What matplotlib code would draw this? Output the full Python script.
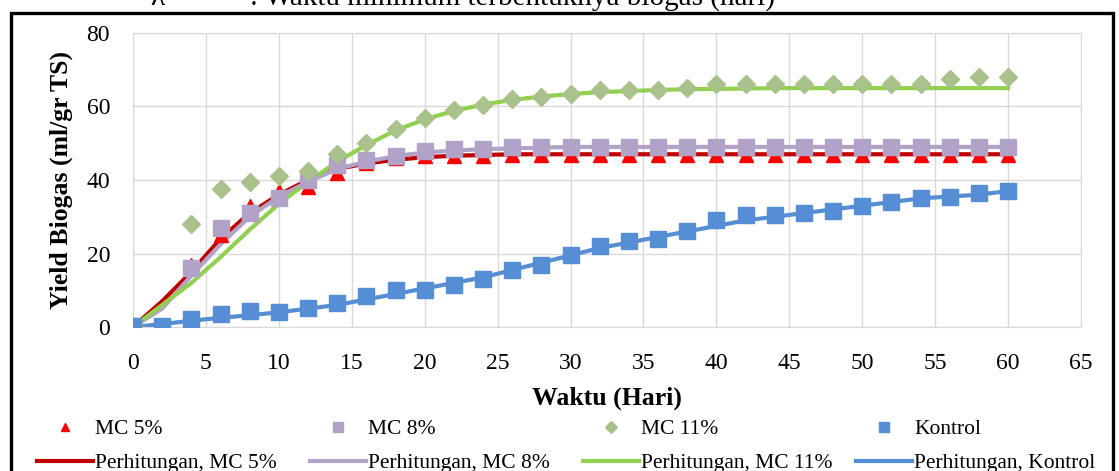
import matplotlib.pyplot as plt
from matplotlib.patches import Rectangle

# observed data (every 2 days)
hari = [0, 2, 4, 6, 8, 10, 12, 14, 16, 18, 20, 22, 24, 26, 28, 30,
        32, 34, 36, 38, 40, 42, 44, 46, 48, 50, 52, 54, 56, 58, 60]
hari_obs = [0, 4, 6, 8, 10, 12, 14, 16, 18, 20, 22, 24, 26, 28, 30,
            32, 34, 36, 38, 40, 42, 44, 46, 48, 50, 52, 54, 56, 58, 60]

mc5 = [0, 17, 25, 33, 37, 38, 42, 44.5, 46, 46.5, 46.5, 46.5, 46.7, 46.8, 46.8,
       46.8, 46.8, 46.8, 46.8, 46.8, 46.8, 46.8, 46.8, 46.8, 46.8, 46.8, 46.8, 46.8, 46.8, 46.8]
mc8 = [0.3, 16, 27, 31, 35, 40, 44, 45.5, 46.5, 48, 48.5, 48.5, 49, 49, 49,
       49, 49, 49, 49, 49, 49, 49, 49, 49, 49, 49, 49, 49, 49, 49]
mc11 = [0.3, 28, 37.5, 39.5, 41, 42.5, 47, 50, 54, 57, 59, 60.5, 62, 62.5, 63.5,
        64.5, 64.5, 64.5, 65, 66, 66, 66, 66, 66, 66, 66, 66, 67.5, 68, 68]
kontrol = [0.3, 0.3, 2.2, 3.5, 4.3, 4.2, 5.3, 6.5, 8.5, 10, 10, 11.5, 13, 15.5, 17, 19.5,
           22, 23.5, 24, 26, 29, 30.5, 30.5, 31, 31.5, 33, 34, 35, 35.5, 36.5, 37]

# calculated (Gompertz) curves
p_mc5 = [0, 7, 15, 24, 31, 36, 40, 43, 44.5, 45.5, 46.2, 46.6, 46.8, 47, 47, 47,
         47, 47, 47, 47, 47, 47, 47, 47, 47, 47, 47, 47, 47, 47, 47]
p_mc8 = [0, 5, 14, 22.5, 30, 35.5, 39.5, 43, 45, 46.5, 47.5, 48, 48.4, 48.6, 48.8, 49,
         49, 49, 49, 49, 49, 49, 49, 49, 49, 49, 49, 49, 49, 49, 49]
p_mc11 = [0, 6, 12, 19, 26.5, 33.5, 39.5, 45, 49.5, 53.5, 56.5, 58.8, 60.5, 61.8, 62.7, 63.4,
          63.9, 64.2, 64.5, 64.7, 64.8, 64.9, 65, 65, 65, 65, 65, 65, 65, 65, 65]
p_kontrol = [0, 0.8, 1.7, 2.5, 3.2, 4, 5, 6, 7.5, 9, 10.5, 12, 13.5, 15.5, 17.5, 19.5,
             21.5, 23, 24.5, 26, 27.5, 29, 30, 31, 32, 33, 34, 35, 35.5, 36, 37]

plt.rcParams['font.family'] = 'Liberation Serif'

fig = plt.figure(figsize=(11.19, 4.71), dpi=100)
ax = fig.add_axes([133 / 1119, 1 - 327 / 471, (1081 - 133) / 1119, (327 - 33) / 471])

l1, = ax.plot(hari, p_mc5, color='#C00000', lw=3, zorder=2)
l2, = ax.plot(hari, p_mc8, color='#B3A2C7', lw=3, zorder=2)
l3, = ax.plot(hari, p_mc11, color='#92D050', lw=3, zorder=2)
l4, = ax.plot(hari, p_kontrol, color='#558ED5', lw=3, zorder=2)

m1, = ax.plot(hari_obs, mc5, ls='none', marker='^', ms=9.5, color='#FF0000', zorder=3)
m2, = ax.plot(hari_obs, mc8, ls='none', marker='s', ms=11, color='#B3A2C7', zorder=3)
m3, = ax.plot(hari_obs, mc11, ls='none', marker='D', ms=9, color='#A9C18B', zorder=3)
m4, = ax.plot(hari, kontrol, ls='none', marker='s', ms=11, color='#558ED5', zorder=3)

ax.set_xlim(0, 65)
ax.set_ylim(0, 80)
ax.set_xticks(range(0, 66, 5))
ax.set_yticks(range(0, 81, 20))
ax.grid(color='#D9D9D9', lw=1)
ax.set_axisbelow(True)
for s in ax.spines.values():
    s.set_color('#D9D9D9')
ax.tick_params(length=0, labelsize=17)
ax.tick_params(axis='x', pad=19)
ax.tick_params(axis='y', pad=16.5)
ax.set_xlabel('Waktu (Hari)', fontsize=18.5, fontweight='bold', labelpad=9)
ax.set_ylabel('Yield Biogas (ml/gr TS)', fontsize=18.5, fontweight='bold', labelpad=10)

# legend: four columns, two rows
handles = [(m1, l1, 'MC 5%', 'Perhitungan, MC 5%'),
           (m2, l2, 'MC 8%', 'Perhitungan, MC 8%'),
           (m3, l3, 'MC 11%', 'Perhitungan, MC 11%'),
           (m4, l4, 'Kontrol', 'Perhitungan, Kontrol')]
for i, (m, l, t1, t2) in enumerate(handles):
    x0 = (37 + 273 * i) / 1119
    fig.legend([m, l], [t1, t2], loc='upper left', bbox_to_anchor=(x0, 1 - 419 / 471),
               frameon=False, fontsize=15.5, handlelength=2.6, handletextpad=0.1,
               borderpad=0, borderaxespad=0, labelspacing=0.65, markerscale=0.65)

# partial caption line above the chart
fig.text(150 / 1119, 1 - 5 / 471, 'λ', fontsize=21, va='baseline')
fig.text(250 / 1119, 1 - 5 / 471, ': Waktu minimum terbentuknya biogas (hari)',
         fontsize=21, va='baseline')

# black frame around the chart
fig.patches.append(Rectangle((11 / 1119, -0.05), (1113 - 11) / 1119, 1.05 - 13 / 471,
                             transform=fig.transFigure, fill=False, ec='black', lw=2.4))

plt.savefig('out.png', dpi=100)
